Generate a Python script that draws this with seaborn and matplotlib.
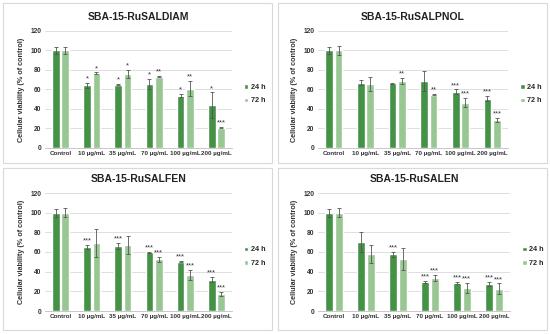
import numpy as np
import pandas as pd
import seaborn as sns
import matplotlib.pyplot as plt
from matplotlib.patches import Rectangle

concentracoes = ["Control", "10 µg/mL", "35 µg/mL", "70 µg/mL", "100 µg/mL", "200 µg/mL"]
tempos = ["24 h", "72 h"]

# SBA-15-RuSALDIAM
saldiam_24 = [100, 64.5, 65, 65.5, 53.5, 44]
saldiam_24_err = [4, 2.5, 0.5, 5, 1.5, 13]
saldiam_72 = [100, 76.5, 76, 73, 61, 21]
saldiam_72_err = [4, 1, 4.5, 0.5, 8, 0.5]
saldiam_24_sig = ["", "*", "*", "*", "*", "*"]
saldiam_72_sig = ["", "*", "*", "**", "**", "***"]

# SBA-15-RuSALPNOL
salpnol_24 = [100, 67, 66.5, 68.5, 57.5, 50.5]
salpnol_24_err = [4, 2.5, 0.5, 10, 2.5, 2.5]
salpnol_72 = [100, 65.5, 68.5, 54.5, 46.5, 29]
salpnol_72_err = [4.5, 7.5, 3, 0.5, 4.5, 2]
salpnol_24_sig = ["", "", "", "", "***", "***"]
salpnol_72_sig = ["", "", "**", "**", "***", "***"]

# SBA-15-RuSALFEN
salfen_24 = [100, 65.5, 66, 59.5, 50, 32]
salfen_24_err = [4, 2, 3, 1, 0.5, 3]
salfen_72 = [100, 69, 67, 52.5, 36.5, 17]
salfen_72_err = [4.5, 14, 9.5, 2.5, 5, 2]
salfen_24_sig = ["", "***", "***", "***", "***", "***"]
salfen_72_sig = ["", "", "", "***", "***", "***"]

# SBA-15-RuSALEN
salen_24 = [100, 70, 57.5, 29.5, 28.5, 27.5]
salen_24_err = [4, 10, 2.5, 1.5, 1.5, 2]
salen_72 = [100, 58, 53, 34, 23.5, 22.5]
salen_72_err = [4.5, 9.5, 11.5, 3, 5, 5.5]
salen_24_sig = ["", "", "***", "***", "***", "***"]
salen_72_sig = ["", "", "", "***", "***", "***"]

paineis = [
    ("SBA-15-RuSALDIAM", saldiam_24, saldiam_24_err, saldiam_72, saldiam_72_err, saldiam_24_sig, saldiam_72_sig),
    ("SBA-15-RuSALPNOL", salpnol_24, salpnol_24_err, salpnol_72, salpnol_72_err, salpnol_24_sig, salpnol_72_sig),
    ("SBA-15-RuSALFEN", salfen_24, salfen_24_err, salfen_72, salfen_72_err, salfen_24_sig, salfen_72_sig),
    ("SBA-15-RuSALEN", salen_24, salen_24_err, salen_72, salen_72_err, salen_24_sig, salen_72_sig),
]

cores = {"24 h": "#389e38", "72 h": "#92cf8b"}

sns.set_style("white")
plt.rcParams['font.family'] = ['Liberation Sans Narrow', 'Liberation Sans', 'DejaVu Sans']

W, H = 550, 334
fig = plt.figure(figsize=(5.5, 3.34), dpi=100)

# caixas dos paineis (px: x0, y0, x1, y1) e eixos (px: left, top, right, bottom)
caixas = [(3, 3, 272, 163), (278, 3, 547, 163), (3, 168, 272, 330), (278, 168, 547, 330)]
eixos = [(45, 31, 232, 148), (318, 31, 508, 148), (45, 193, 232, 311), (318, 193, 510, 311)]

for (titulo, v24, e24, v72, e72, s24, s72), caixa, eixo in zip(paineis, caixas, eixos):
    x0, y0, x1, y1 = caixa
    fig.patches.append(Rectangle((x0 / W, 1 - y1 / H), (x1 - x0) / W, (y1 - y0) / H,
                                 transform=fig.transFigure, fill=False,
                                 edgecolor="#d9d9d9", linewidth=0.8))
    l, t, r, b = eixo
    ax = fig.add_axes([l / W, 1 - b / H, (r - l) / W, (b - t) / H])

    df = pd.DataFrame({
        "conc": concentracoes * 2,
        "tempo": ["24 h"] * 6 + ["72 h"] * 6,
        "valor": v24 + v72,
    })
    sns.barplot(data=df, x="conc", y="valor", hue="tempo", palette=cores,
                errorbar=None, width=0.6, gap=0.18, ax=ax, zorder=2)

    erros = {"24 h": e24, "72 h": e72}
    sigs = {"24 h": s24, "72 h": s72}
    valores = {"24 h": v24, "72 h": v72}
    for cont, tempo in zip(ax.containers, tempos):
        for i, barra in enumerate(cont.patches):
            xc = barra.get_x() + barra.get_width() / 2
            ax.errorbar(xc, valores[tempo][i], yerr=erros[tempo][i], color="#555555",
                        elinewidth=0.6, capsize=1.5, capthick=0.6, zorder=3)
            if sigs[tempo][i]:
                ax.text(xc, valores[tempo][i] + erros[tempo][i] + 0.5, sigs[tempo][i],
                        ha="center", va="bottom", fontsize=5.5, color="#333333")

    ax.set_ylim(0, 120)
    ax.set_yticks(range(0, 121, 20))
    ax.set_xlim(-0.5, 5.5)
    ax.grid(axis="y", color="#d9d9d9", linewidth=0.6, zorder=0)
    ax.set_axisbelow(True)
    for lado in ["top", "right", "left"]:
        ax.spines[lado].set_visible(False)
    ax.spines["bottom"].set_color("#bfbfbf")
    ax.spines["bottom"].set_linewidth(0.6)
    ax.tick_params(axis="both", length=0, pad=2.5, colors="#333333")
    ax.tick_params(axis="x", labelsize=4.5)
    ax.tick_params(axis="y", labelsize=4.8)
    for rotulo in ax.get_xticklabels() + ax.get_yticklabels():
        rotulo.set_fontweight("bold")
    ax.set_xlabel("")
    ax.set_ylabel("Cellular viability (% of control)", fontsize=5.2, fontweight="bold",
                  color="#333333", labelpad=4)
    ax.set_title(titulo, fontsize=7.5, fontweight="bold", color="#222222", pad=8)
    ax.legend(loc="center left", bbox_to_anchor=(1.03, 0.46), frameon=False,
              handlelength=0.6, handleheight=0.6, handletextpad=0.4,
              labelspacing=0.9, prop={"weight": "bold", "size": 5.2})

fig.savefig("out.png", dpi=100, facecolor="white")
